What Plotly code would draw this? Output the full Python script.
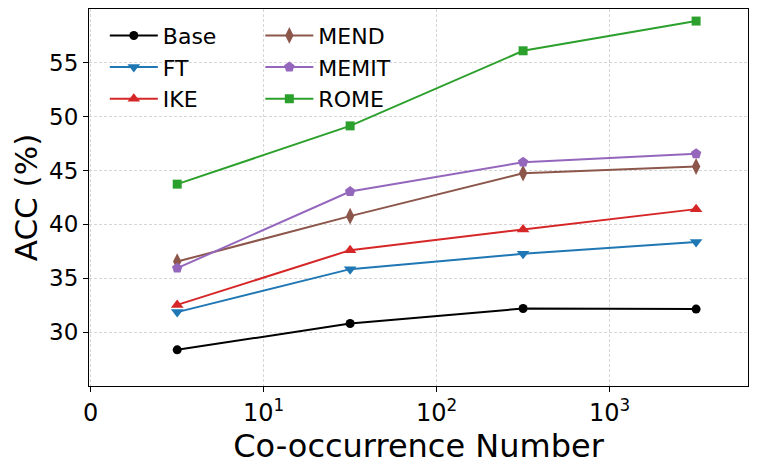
import numpy as np
import plotly.graph_objects as go

# co-occurrence bins (plotted on a symlog-like axis: 0..10 linear, then log)
cooc = [5, 31.6, 316, 3162]

base = [28.36, 30.80, 32.19, 32.14]
ft = [31.86, 35.85, 37.27, 38.36]
ike = [32.53, 37.61, 39.53, 41.42]
mend = [36.55, 40.77, 44.76, 45.38]
memit = [35.94, 43.05, 45.78, 46.56]
rome = [43.74, 49.15, 56.12, 58.88]

x_ticks = [0, 10, 100, 1000]
x_ticktext = ["0", "10<sup>1</sup>", "10<sup>2</sup>", "10<sup>3</sup>"]
y_ticks = [30, 35, 40, 45, 50, 55]


def symlog(v):
    # linear below 10, one decade per unit above
    v = np.asarray(v, dtype=float)
    return np.where(v < 10, v / 10, 1 + np.log10(np.maximum(v, 10) / 10))


series = [
    ("Base", base, "black", "circle", 9, "legend"),
    ("FT", ft, "#1f77b4", "triangle-down", 11, "legend"),
    ("IKE", ike, "#d62728", "triangle-up", 11, "legend"),
    ("MEND", mend, "#8c564b", "diamond-tall", 12, "legend2"),
    ("MEMIT", memit, "#9467bd", "pentagon", 11, "legend2"),
    ("ROME", rome, "#2ca02c", "square", 9, "legend2"),
]

fig = go.Figure()
for name, vals, color, sym, size, leg in series:
    fig.add_trace(
        go.Scatter(
            x=symlog(cooc),
            y=vals,
            name=name,
            legendgroup=name,
            mode="lines+markers",
            line=dict(color=color, width=2),
            marker=dict(symbol=sym, size=size, color=color),
            legend=leg,
        )
    )

legend_style = dict(
    font=dict(size=22, color="black"),
    bgcolor="rgba(0,0,0,0)",
    xanchor="left",
    yanchor="top",
    tracegroupgap=0,
    itemwidth=48,
)

# page body has an 8px margin, so the figure is 8px smaller than the window
fig.update_layout(
    width=750,
    height=460,
    plot_bgcolor="white",
    paper_bgcolor="white",
    font=dict(family="DejaVu Sans", size=23, color="black"),
    margin=dict(l=81, r=10, t=1, b=82),
    legend=dict(x=0.024, y=0.985, **legend_style),
    legend2=dict(x=0.260, y=0.985, **legend_style),
)

axis_style = dict(
    ticks="outside",
    ticklen=5,
    tickcolor="black",
    showline=True,
    linecolor="black",
    linewidth=1.2,
    mirror=True,
    showgrid=True,
    gridcolor="#d6d6d6",
    griddash="3px,2px",
    gridwidth=0.8,
    zeroline=False,
    automargin=False,
)

fig.update_xaxes(
    title=dict(text="Co-occurrence Number", font=dict(size=32), standoff=2),
    range=[-0.01, 3.80],
    tickvals=symlog(x_ticks),
    ticktext=x_ticktext,
    tickfont=dict(size=24),
    **axis_style,
)
fig.update_yaxes(
    title=dict(text="ACC (%)", font=dict(size=31), standoff=6),
    range=[25, 60],
    tickvals=y_ticks,
    **axis_style,
)

fig.write_html("out.html")
